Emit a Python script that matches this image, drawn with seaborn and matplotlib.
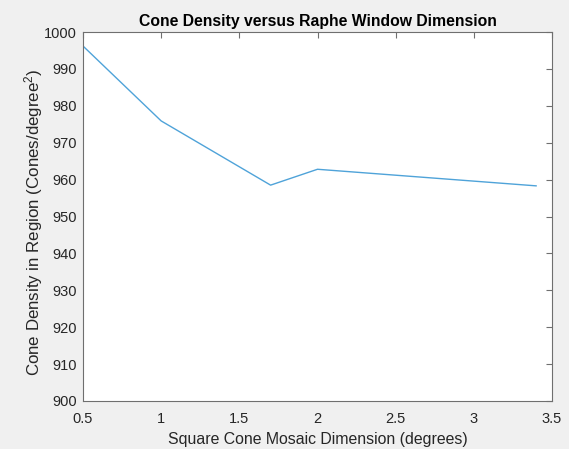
import matplotlib
matplotlib.use("Agg")
import matplotlib.pyplot as plt
import seaborn as sns
import pandas as pd

# Cone density measured for each square mosaic size
mosaic_dimension = [0.5, 1.0, 1.7, 2.0, 3.4]
cone_density = [996.2, 975.9, 958.5, 962.8, 958.3]

x_ticks = [0.5, 1, 1.5, 2, 2.5, 3, 3.5]
x_tick_labels = ["0.5", "1", "1.5", "2", "2.5", "3", "3.5"]
y_ticks = list(range(900, 1001, 10))

df = pd.DataFrame({"dim": mosaic_dimension, "density": cone_density})

sns.set_theme(style="white")
plt.rcParams["font.family"] = ["Liberation Sans", "DejaVu Sans"]
plt.rcParams["mathtext.fontset"] = "custom"
plt.rcParams["mathtext.rm"] = "Liberation Sans"
plt.rcParams["mathtext.it"] = "Liberation Sans:italic"

fig = plt.figure(figsize=(5.69, 4.49), dpi=100, facecolor="#f0f0f0")
ax = fig.add_axes([83 / 569, 1 - 401 / 449, (552 - 83) / 569, (401 - 32) / 449])
ax.set_facecolor("white")

sns.lineplot(data=df, x="dim", y="density", ax=ax, color="#4fa3d9", linewidth=1.0)

ax.set_xlim(0.5, 3.5)
ax.set_ylim(900, 1000)
ax.set_xticks(x_ticks)
ax.set_xticklabels(x_tick_labels)
ax.set_yticks(y_ticks)

text_color = "#262626"
for side in ["left", "right", "top", "bottom"]:
    ax.spines[side].set_visible(True)
    ax.spines[side].set_color("#6f6f6f")
    ax.spines[side].set_linewidth(0.8)

ax.tick_params(axis="both", which="major", direction="in", length=4.5, width=0.8,
               color="#6f6f6f", labelsize=10.5, labelcolor=text_color,
               top=True, right=True)
ax.tick_params(axis="x", pad=8)
ax.tick_params(axis="y", pad=4.5)

ax.set_xlabel("Square Cone Mosaic Dimension (degrees)", fontsize=11.4, color=text_color, labelpad=4)
ax.set_ylabel("Cone Density in Region (Cones/degree$^2$)", fontsize=12.2, color=text_color)
ax.yaxis.set_label_coords(-0.082, 0.485)
ax.set_title("Cone Density versus Raphe Window Dimension", fontsize=11.3, fontweight="bold",
             color="black", pad=4)

fig.savefig("out.png", dpi=100, facecolor=fig.get_facecolor())
